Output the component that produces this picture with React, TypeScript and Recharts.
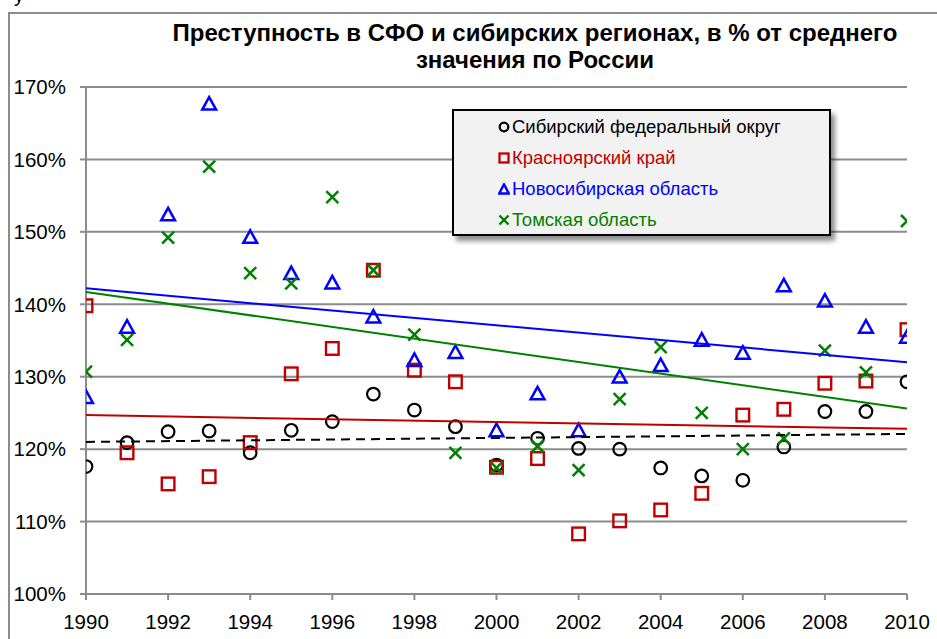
import React from 'react';
import { ScatterChart, Scatter, XAxis, YAxis, CartesianGrid, Legend } from 'recharts';

const years = [1990, 1991, 1992, 1993, 1994, 1995, 1996, 1997, 1998, 1999, 2000, 2001, 2002, 2003, 2004, 2005, 2006, 2007, 2008, 2009, 2010];
const sfo = [117.6, 120.9, 122.4, 122.5, 119.5, 122.6, 123.8, 127.6, 125.4, 123.1, 117.8, 121.5, 120.1, 120.0, 117.4, 116.3, 115.7, 120.3, 125.2, 125.2, 129.3];
const krasnoyarsk = [139.8, 119.5, 115.2, 116.2, 120.9, 130.4, 133.9, 144.7, 130.9, 129.3, 117.5, 118.7, 108.3, 110.1, 111.6, 113.9, 124.7, 125.5, 129.1, 129.4, 136.5];
const novosibirsk = [127.2, 136.9, 152.4, 167.7, 149.3, 144.3, 143.0, 138.3, 132.3, 133.4, 122.6, 127.7, 122.6, 130.0, 131.6, 135.1, 133.3, 142.6, 140.5, 136.9, 135.5];
const tomsk = [130.7, 135.1, 149.2, 159.0, 144.3, 142.9, 154.8, 144.7, 135.8, 119.5, 117.4, 120.4, 117.1, 126.9, 134.1, 125.0, 120.0, 121.5, 133.6, 130.6, 151.5];

const trendYears = [1990, 2010];
const sfoTrend = [121.0, 122.1];
const krasnoyarskTrend = [124.7, 122.8];
const novosibirskTrend = [142.2, 132.0];
const tomskTrend = [141.7, 125.6];

const yTicks = [100, 110, 120, 130, 140, 150, 160, 170];
const xTicks = [1990, 1992, 1994, 1996, 1998, 2000, 2002, 2004, 2006, 2008, 2010];

const seriesNames = ['Сибирский федеральный округ', 'Красноярский край', 'Новосибирская область', 'Томская область'];
const titleLines = ['Преступность в СФО и сибирских регионах, в % от среднего', 'значения по России'];

const BLACK = '#000000';
const RED = '#c00000';
const BLUE = '#0000ff';
const GREEN = '#008000';
const GRID = '#8c8c8c';
const FONT = 'Arial, "Liberation Sans", sans-serif';

const toPoints = (xs: number[], ys: number[]) => xs.map((x, i) => ({ x, y: ys[i] }));

const Circle = (p: any) => <circle cx={p.cx} cy={p.cy} r={6.3} fill="none" stroke={BLACK} strokeWidth={2.2} />;
const Square = (p: any) => <rect x={p.cx - 6.3} y={p.cy - 6.3} width={12.6} height={12.6} fill="none" stroke={RED} strokeWidth={2.4} />;
const Triangle = (p: any) => (
  <path d={`M${p.cx},${p.cy - 6.6} L${p.cx + 6.9},${p.cy + 5.9} L${p.cx - 6.9},${p.cy + 5.9} Z`} fill="none" stroke={BLUE} strokeWidth={2.5} />
);
const Cross = (p: any) => (
  <g stroke={GREEN} strokeWidth={2.5}>
    <line x1={p.cx - 6} y1={p.cy - 6} x2={p.cx + 6} y2={p.cy + 6} />
    <line x1={p.cx - 6} y1={p.cy + 6} x2={p.cx + 6} y2={p.cy - 6} />
  </g>
);
const Empty = () => <g />;

const legendMarker = (i: number) => {
  const c = 6;
  if (i === 0) return <circle cx={c} cy={c} r={4.3} fill="none" stroke={BLACK} strokeWidth={2.3} />;
  if (i === 1) return <rect x={1.5} y={1.5} width={9} height={9} fill="none" stroke={RED} strokeWidth={2.3} />;
  if (i === 2) return <path d="M6,1.3 L10.8,10.5 L1.2,10.5 Z" fill="none" stroke={BLUE} strokeWidth={2.4} />;
  return (
    <g stroke={GREEN} strokeWidth={2.4}>
      <line x1={1.5} y1={1.5} x2={10.5} y2={10.5} />
      <line x1={1.5} y1={10.5} x2={10.5} y2={1.5} />
    </g>
  );
};
const legendColors = [BLACK, RED, BLUE, GREEN];

const LegendBox = () => (
  <div
    style={{
      boxSizing: 'border-box',
      width: 379,
      height: 127,
      border: '2px solid #000',
      background: '#f2f2f2',
      boxShadow: '4px 5px 5px rgba(0,0,0,0.45)',
      paddingLeft: 44,
      fontFamily: FONT,
      fontSize: 18.5,
    }}
  >
    {seriesNames.map((n, i) => (
      <div key={n} style={{ height: 31.2, display: 'flex', alignItems: 'center', color: legendColors[i] }}>
        <svg width={12} height={12} style={{ marginRight: 2 }}>{legendMarker(i)}</svg>
        <span>{n}</span>
      </div>
    ))}
  </div>
);

export default function App() {
  return (
    <div style={{ position: 'fixed', left: 0, top: 0, width: 937, height: 639, overflow: 'hidden', background: '#fff' }}>
      <div style={{ position: 'absolute', left: 8, top: 12, width: 960, height: 660, border: '2px solid #8c8c8c' }} />
      <div style={{ position: 'absolute', left: 14, top: -16, fontFamily: FONT, fontSize: 20, color: '#000' }}>у</div>
      <div
        style={{
          position: 'absolute',
          left: 85,
          width: 900,
          top: 19,
          textAlign: 'center',
          fontFamily: FONT,
          fontWeight: 'bold',
          fontSize: 24,
          lineHeight: '27px',
          color: '#000',
        }}
      >
        {titleLines.map((t) => (
          <div key={t}>{t}</div>
        ))}
      </div>
      <ScatterChart width={937} height={639} margin={{ top: 87, right: 30, left: 0, bottom: 0 }} style={{ position: 'absolute', left: 0, top: 0 }}>
        <CartesianGrid horizontal vertical={false} stroke={GRID} strokeWidth={2} />
        <XAxis
          type="number"
          dataKey="x"
          domain={[1990, 2010]}
          ticks={xTicks}
          height={45}
          tickSize={6}
          tickMargin={14}
          axisLine={{ stroke: GRID, strokeWidth: 2 }}
          tickLine={{ stroke: GRID, strokeWidth: 2 }}
          tick={{ fill: '#000', fontSize: 20.5, fontFamily: FONT }}
          allowDataOverflow
        />
        <YAxis
          type="number"
          dataKey="y"
          domain={[100, 170]}
          ticks={yTicks}
          width={86}
          tickSize={6}
          tickMargin={14}
          tickFormatter={(v: number) => `${v}%`}
          axisLine={{ stroke: GRID, strokeWidth: 2 }}
          tickLine={{ stroke: GRID, strokeWidth: 2 }}
          tick={{ fill: '#000', fontSize: 20.5, fontFamily: FONT }}
          allowDataOverflow
        />
        <Legend
          layout="vertical"
          align="center"
          verticalAlign="middle"
          content={() => <LegendBox />}
          wrapperStyle={{ left: 452, top: 109, width: 379, height: 127 }}
        />
        <Scatter name={seriesNames[0]} data={toPoints(years, sfo)} shape={Circle} isAnimationActive={false} />
        <Scatter name={seriesNames[1]} data={toPoints(years, krasnoyarsk)} shape={Square} isAnimationActive={false} />
        <Scatter name={seriesNames[2]} data={toPoints(years, novosibirsk)} shape={Triangle} isAnimationActive={false} />
        <Scatter name={seriesNames[3]} data={toPoints(years, tomsk)} shape={Cross} isAnimationActive={false} />
        <Scatter data={toPoints(trendYears, sfoTrend)} shape={Empty} line={{ stroke: BLACK, strokeWidth: 2, strokeDasharray: '9 6' }} legendType="none" isAnimationActive={false} />
        <Scatter data={toPoints(trendYears, krasnoyarskTrend)} shape={Empty} line={{ stroke: RED, strokeWidth: 2 }} legendType="none" isAnimationActive={false} />
        <Scatter data={toPoints(trendYears, novosibirskTrend)} shape={Empty} line={{ stroke: BLUE, strokeWidth: 2 }} legendType="none" isAnimationActive={false} />
        <Scatter data={toPoints(trendYears, tomskTrend)} shape={Empty} line={{ stroke: GREEN, strokeWidth: 2 }} legendType="none" isAnimationActive={false} />
      </ScatterChart>
    </div>
  );
}
